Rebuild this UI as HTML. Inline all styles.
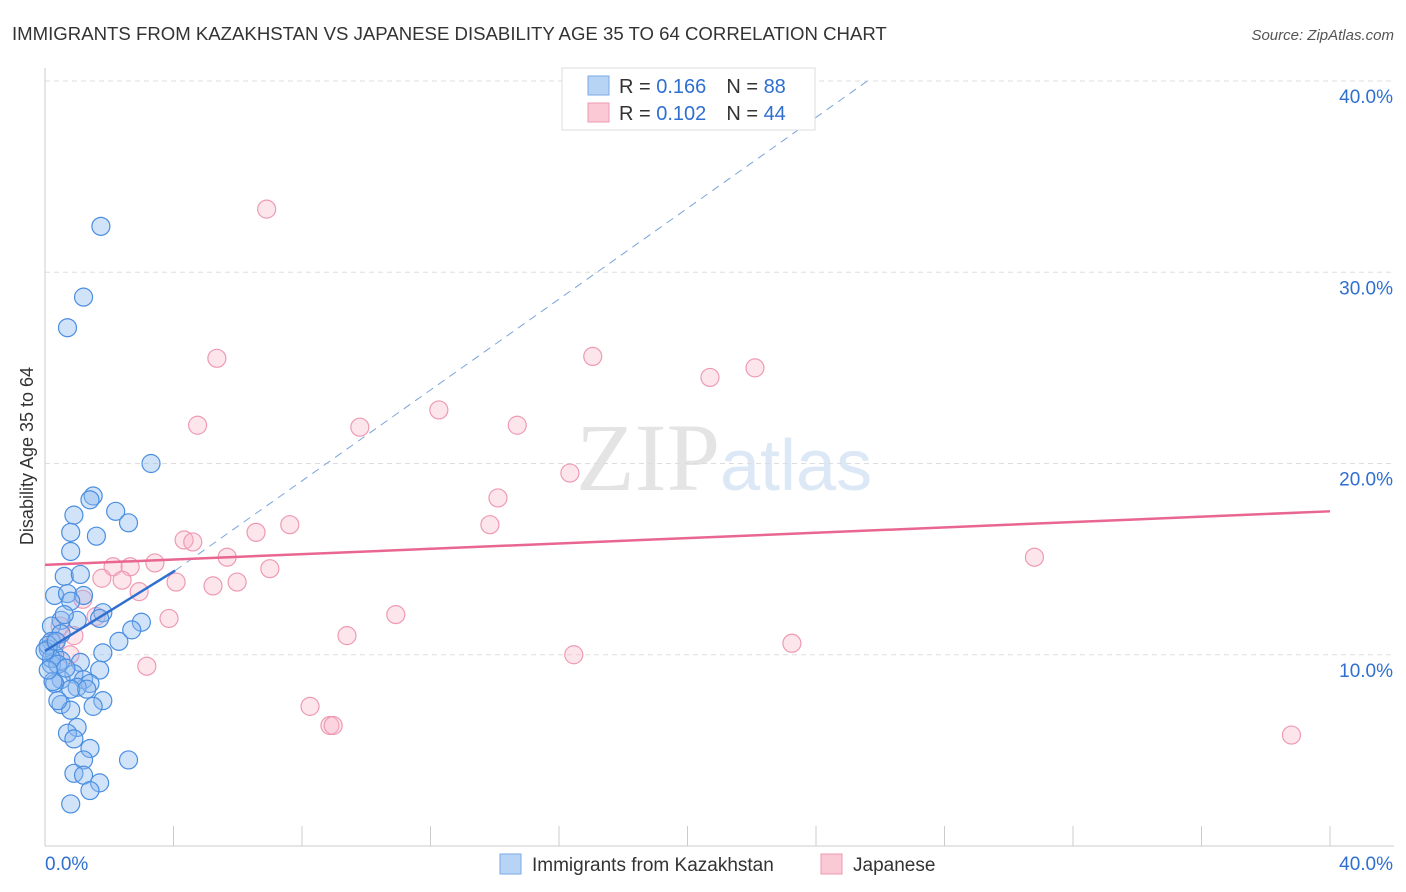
<!DOCTYPE html>
<html><head><meta charset="utf-8">
<style>
body{margin:0;background:#fff;font-family:"Liberation Sans",sans-serif;}
#wrap{position:relative;width:1406px;height:892px;overflow:hidden;}
</style></head>
<body>
<div id="wrap">
<svg id="chart" width="1406" height="892" xmlns="http://www.w3.org/2000/svg">
<text x="12" y="40" font-size="18.6" fill="#333">IMMIGRANTS FROM KAZAKHSTAN VS JAPANESE DISABILITY AGE 35 TO 64 CORRELATION CHART</text>
<text x="1394" y="40" font-size="15" fill="#555" font-style="italic" text-anchor="end">Source: ZipAtlas.com</text>
<text transform="translate(33,456) rotate(-90)" font-size="18" fill="#333" text-anchor="middle">Disability Age 35 to 64</text>
<text x="720" y="490" font-size="96" fill="#e4e4e4" font-family="Liberation Serif,serif" text-anchor="end">ZIP</text>
<text x="720" y="490" font-size="72" fill="#dce8f6">atlas</text>
<g id="grid"></g><g id="marks"></g>
<g>
<rect x="562" y="68" width="253" height="62" fill="#fff" stroke="#ddd"/>
<rect x="588" y="76" width="21" height="19" fill="#b8d4f5" stroke="#7aaae6"/>
<rect x="588" y="103" width="21" height="19" fill="#fbc8d6" stroke="#ee9ab3"/>
<text x="619" y="93" font-size="20" fill="#333">R = <tspan fill="#2f6fd0">0.166</tspan><tspan dx="20">N = </tspan><tspan fill="#2f6fd0">88</tspan></text>
<text x="619" y="120" font-size="20" fill="#333">R = <tspan fill="#2f6fd0">0.102</tspan><tspan dx="20">N = </tspan><tspan fill="#2f6fd0">44</tspan></text>
</g>
<g>
<rect x="500" y="854" width="21" height="20" fill="#b8d4f5" stroke="#7aaae6"/>
<text x="532" y="871" font-size="19" fill="#333">Immigrants from Kazakhstan</text>
<rect x="821" y="854" width="21" height="20" fill="#fbc8d6" stroke="#ee9ab3"/>
<text x="853" y="871" font-size="19" fill="#333">Japanese</text>
</g>
</svg>
</div>
<script>
const yTicks=[10,20,30,40];
const yTickLabels=["10.0%","20.0%","30.0%","40.0%"];
const xTickLabels=["0.0%","40.0%"];
const blueX=[1.74,1.2,0.7,3.3,1.5,1.4,2.2,0.9,2.6,0.8,1.6,0.8,0.6,1.1,0.3,0.7,1.2,0.8,1.8,1.0,0.5,0.2,3.0,2.7,0.5,2.3,0.2,1.8,0.1,0.3,0.5,1.1,0.2,1.7,0.9,0.5,1.2,1.4,1.0,0.3,0.25,1.8,0.5,1.5,0.8,1.0,0.7,0.9,1.4,1.2,2.6,0.9,1.2,1.7,1.4,0.8,0.1,0.2,0.0,0.4,0.65,0.8,1.3,0.4,1.7,0.6,0.35,0.1];
const blueY=[32.4,28.7,27.1,20.0,18.3,18.1,17.5,17.3,16.9,16.4,16.2,15.4,14.1,14.2,13.1,13.2,13.1,12.8,12.2,11.8,11.8,11.5,11.7,11.3,11.1,10.7,10.7,10.1,10.3,10.0,9.7,9.6,9.5,9.2,9.0,8.7,8.7,8.5,8.3,8.5,8.6,7.6,7.4,7.3,7.1,6.2,5.9,5.6,5.1,4.5,4.5,3.8,3.7,3.3,2.9,2.2,10.5,9.8,10.2,9.5,9.3,8.2,8.2,7.6,11.9,12.1,10.7,9.2];
const pinkX=[6.9,5.35,17.05,20.7,22.1,4.75,9.8,12.26,14.7,16.34,14.1,13.85,7.62,4.33,4.6,6.57,5.67,30.8,7.0,3.42,2.12,2.65,1.77,2.4,4.08,5.23,5.98,2.93,1.18,1.59,3.86,10.92,9.4,23.25,16.46,3.17,8.25,8.87,8.97,38.8,0.47,0.31,0.78,0.9];
const pinkY=[33.3,25.5,25.6,24.5,25.0,22.0,21.9,22.8,22.0,19.5,18.2,16.8,16.8,16.0,15.9,16.4,15.1,15.1,14.5,14.8,14.6,14.6,14.0,13.9,13.8,13.6,13.8,13.3,12.9,12.0,11.9,12.1,11.0,10.6,10.0,9.4,7.3,6.3,6.3,5.8,11.5,10.7,10.0,11.0];
const blueFitX=[0,4.05],blueFitY=[10.2,14.4],blueDashX=[4.05,25.6],blueDashY=[14.4,40.0];
const pinkFitX=[0,40],pinkFitY=[14.7,17.5];
const L=45,R=1330,B=846,T=81;
const sx=v=>L+(R-L)*v/40, sy=v=>B-(B-T)*v/40;
const NS="http://www.w3.org/2000/svg";
function mk(tag,attrs,parent){const e=document.createElementNS(NS,tag);for(const k in attrs)e.setAttribute(k,attrs[k]);parent.appendChild(e);return e;}
const grid=document.getElementById('grid'),marks=document.getElementById('marks');
let ax=mk('line',{x1:L,y1:68,x2:L,y2:B,stroke:'#ccc'},grid);


let bx=mk('line',{x1:L,y1:B,x2:1394,y2:B,stroke:'#ccc'},grid);


yTicks.forEach((t,i)=>{
 let g=mk('line',{x1:L,y1:sy(t),x2:1394,y2:sy(t),stroke:'#ddd','stroke-dasharray':'5,4'},grid);
 
 
 let tx=mk('text',{x:1393,y:sy(t)+22,'font-size':19,fill:'#2f6fd0','text-anchor':'end'},grid);
 tx.textContent=yTickLabels[i];
 
 
});
for(let i=1;i<=10;i++){
 let x=L+i*(R-L)/10;
 let tk=mk('line',{x1:x,y1:826,x2:x,y2:B,stroke:'#ccc'},grid);
 
 
}
[[L,'start',0],[1393,'end',1]].forEach(([x,a,i])=>{
 let tx=mk('text',{x:x,y:870,'font-size':19,fill:'#2f6fd0','text-anchor':a},grid);
 tx.textContent=xTickLabels[i];
 
 
});
pinkX.forEach((v,i)=>{
 let c=mk('circle',{cx:sx(v),cy:sy(pinkY[i]),r:9,fill:'rgba(248,180,200,0.35)',stroke:'#ee9ab3','stroke-width':1.2},marks);
 
 
});
blueX.forEach((v,i)=>{
 let c=mk('circle',{cx:sx(v),cy:sy(blueY[i]),r:9,fill:'rgba(140,185,240,0.4)',stroke:'#4a8ee0','stroke-width':1.2},marks);
 
 
});
let d=mk('line',{x1:sx(blueDashX[0]),y1:sy(blueDashY[0]),x2:sx(blueDashX[1]),y2:sy(blueDashY[1]),stroke:'#7aa4dc','stroke-width':1,'stroke-dasharray':'8,6'},marks);


let b=mk('line',{x1:sx(blueFitX[0]),y1:sy(blueFitY[0]),x2:sx(blueFitX[1]),y2:sy(blueFitY[1]),stroke:'#2f6fd0','stroke-width':2.5},marks);


let p=mk('line',{x1:sx(pinkFitX[0]),y1:sy(pinkFitY[0]),x2:sx(pinkFitX[1]),y2:sy(pinkFitY[1]),stroke:'#e8668f','stroke-width':2.5},marks);


</script>
</body></html>
